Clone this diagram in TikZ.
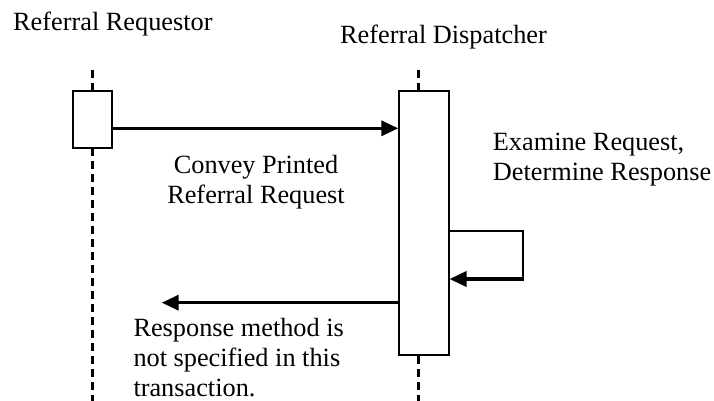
\documentclass[tikz,border=0pt]{standalone}
\usepackage{fontspec}
\setmainfont{Liberation Serif}
\usetikzlibrary{arrows.meta}
\begin{document}
\begin{tikzpicture}[x=1pt,y=-1pt,
  lbl/.style={inner sep=0pt,font=\fontsize{26.3}{30}\selectfont,align=left},
  life/.style={line width=2.5pt,dash pattern=on 8pt off 5pt},
  actbox/.style={draw,line width=2pt,fill=white,inner sep=0pt},
  msg/.style={line width=3.5pt,-{Triangle[length=17pt,width=15pt]}},
  thinline/.style={line width=2pt}]
\useasboundingbox[fill=white] (0,0) rectangle (714,401);
% lifelines
\coordinate (ltop) at (92.3,70);
\coordinate (lbot) at (92.3,401);
\coordinate (rtop) at (418.5,70);
\coordinate (rbot) at (418.5,401);
\draw[life] (ltop) -- (lbot);
\draw[life] (rtop) -- (rbot);
% activation boxes
\node[actbox,minimum width=38.7pt,minimum height=57.6pt] (lbox) at (92.3,119.5) {};
\node[actbox,minimum width=49.2pt,minimum height=264.3pt] (rbox) at (423.9,222.85) {};
% headers
\node[lbl,anchor=base west] (req) at (13,30.7) {Referral Requestor};
\node[lbl,anchor=base west] (disp) at (340,44) {Referral Dispatcher};
% message 1
\coordinate (m1) at (0,128.3);
\draw[msg] (lbox.east |- m1) -- (rbox.west |- m1);
\node[lbl,align=center,anchor=base] (conv) at (256,203.3) {Convey Printed\\Referral Request};
% self message
\coordinate (s1) at (0,231);
\coordinate (s2) at (522.7,279);
\draw[thinline] (rbox.east |- s1) -| ([yshift=-1pt]s2);
\draw[msg] ([xshift=1pt]s2) -- (rbox.east |- s2);
\node[lbl,anchor=base west] (exam) at (492.7,180.5) {Examine Request,\\Determine Response};
% response
\coordinate (m3) at (161.7,302.7);
\draw[msg] (rbox.west |- m3) -- (m3);
\node[lbl,anchor=base west] (resp) at (133.3,396.7) {Response method is\\not specified in this\\transaction.};
\end{tikzpicture}
\end{document}
